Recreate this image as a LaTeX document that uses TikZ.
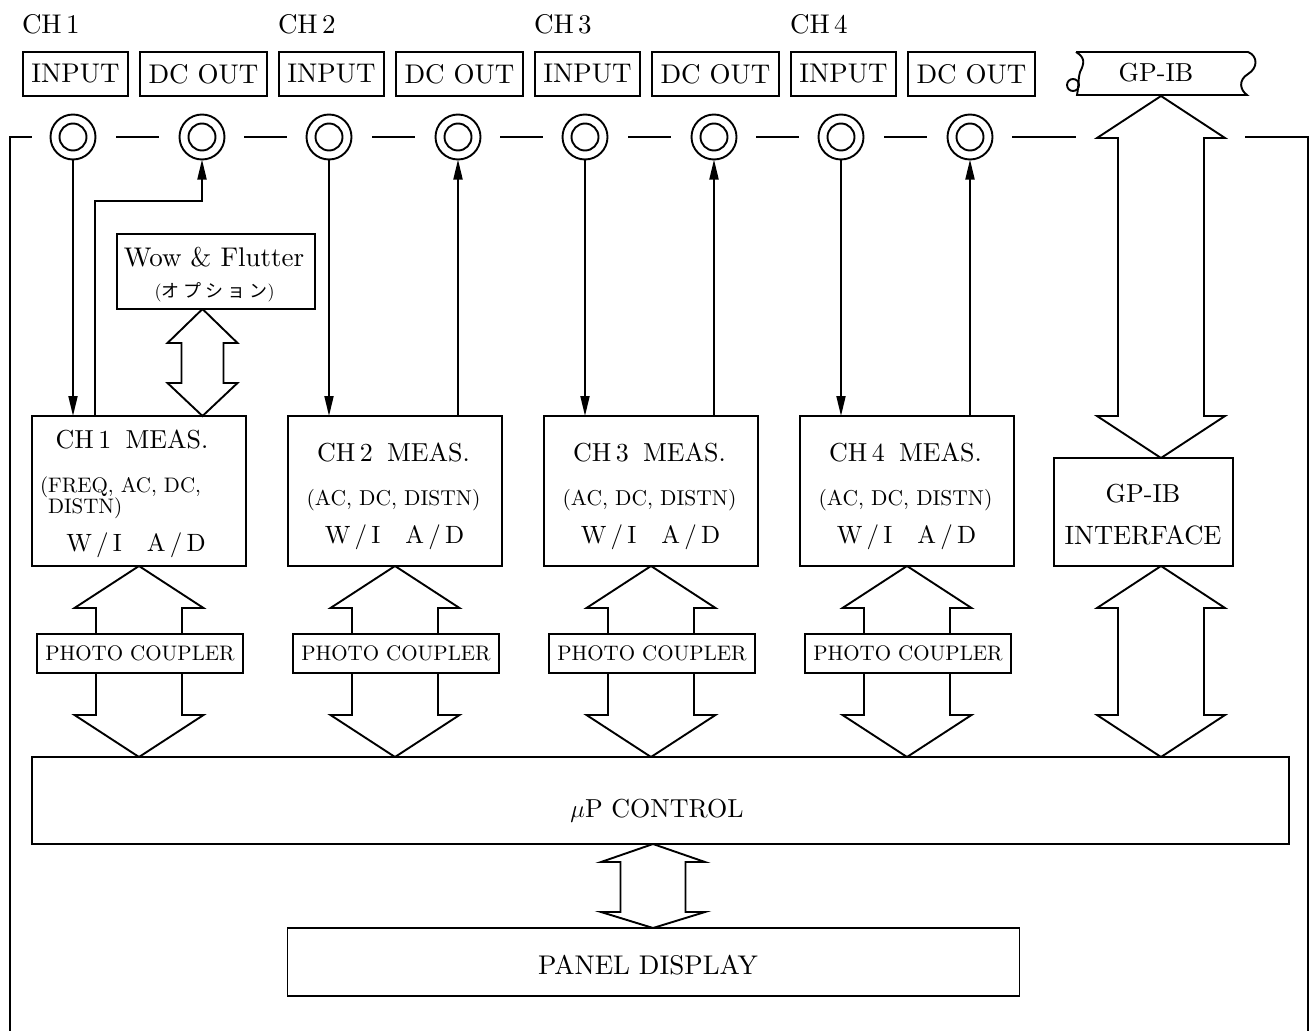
\documentclass[tikz,border=0pt]{standalone}
\usepackage{fontspec}
\setmainfont{lmroman10-regular.otf}
\newfontfamily\cjk{Noto Sans CJK JP}
\usetikzlibrary{arrows.meta}
\newcommand\myfs[1]{\fontsize{#1}{#1}\selectfont}
% block double arrow: x centre, top tip y, top wing y, bottom wing y, bottom tip y, half wing, half shaft
\newcommand\dblarr[7]{%
  \draw[blk] (#1,#2) -- ({#1+#6},#3) -- ({#1+#7},#3) -- ({#1+#7},#4) -- ({#1+#6},#4) -- (#1,#5)
     -- ({#1-#6},#4) -- ({#1-#7},#4) -- ({#1-#7},#3) -- ({#1-#6},#3) -- cycle;}
\begin{document}
\begin{tikzpicture}[x=1pt,y=-1pt,
  lw/.style={line width=1.9pt},
  box/.style={draw,line width=1.9pt,inner sep=0pt,outer sep=0pt,fill=white},
  txt/.style={inner sep=0pt,outer sep=0pt,anchor=base},
  arr/.style={line width=1.9pt,-{Triangle[length=20pt,width=9pt]}},
  blk/.style={line width=1.9pt,line join=miter,fill=white},
  jack/.style={circle,draw,line width=1.9pt,minimum size=45pt,inner sep=0pt,outer sep=0pt}]
\useasboundingbox (0,0) rectangle (1313,1030);

% panel frame
\draw[lw] (10,1031) -- (10,137) -- (32,137);
\draw[lw] (1245,137) -- (1308,137) -- (1308,1031);
\draw[lw] (1012,137) -- (1076,137);

% channels
\foreach \k [evaluate=\k as \dx using 256*\k, evaluate=\k as \n using int(\k+1),
             evaluate=\k as \cx using 139+256*\k] in {0,1,2,3} {
  \node[txt,anchor=base west] (ch\n) at ({22+\dx},34) {\myfs{27}CH\,\n};
  \node[box,minimum width=105,minimum height=44] (bin\n) at ({75.5+\dx},74) {\myfs{27}INPUT};
  \node[box,minimum width=127,minimum height=44] (bout\n) at ({203.5+\dx},74) {\myfs{27}DC OUT};
  \node[jack] (jin\n) at ({73+\dx},137) {};
  \draw[lw] (jin\n.center) circle (13.5);
  \node[jack] (jout\n) at ({202+\dx},137) {};
  \draw[lw] (jout\n.center) circle (13.5);
  \draw[lw] ({116+\dx},137) -- ({159+\dx},137);
  \dblarr{\cx}{566}{608}{715}{757}{64.5}{43}
  \node[box,minimum width=214,minimum height=150] (m\n) at (\cx,491) {};
  \node[box,minimum width=206,minimum height=39] (pc\n) at ({\cx+1},653.5) {\myfs{21}PHOTO COUPLER};
  \draw[arr] (jin\n.south) -- (jin\n.south |- m\n.north);
}
\foreach \k [evaluate=\k as \dx using 256*\k] in {0,1,2} {
  \draw[lw] ({244+\dx},137) -- ({287+\dx},137);
}
% channel 1 texts and DC OUT path
\node[txt] (t1a) at (132,448) {\myfs{26}CH\,1\hspace{0.55em}MEAS.};
\node[txt,anchor=base west] (t1b) at (40,492) {\myfs{21}(FREQ, AC, DC,};
\node[txt,anchor=base west] (t1c) at (48,513) {\myfs{21}DISTN)};
\node[txt] (t1d) at (136,551.5) {\myfs{25}W\,/\,I\quad A\,/\,D};
\coordinate (k1) at (95,201);
\draw[arr] (k1 |- m1.north) -- (k1) -| (jout1.south);
% channels 2-4 texts and DC OUT lines
\foreach \n [evaluate=\n as \cx using 138.5+256*(\n-1)] in {2,3,4} {
  \node[txt] (t\n a) at ({\cx-1},461) {\myfs{26}CH\,\n\hspace{0.55em}MEAS.};
  \node[txt] (t\n b) at ({\cx-1},505) {\myfs{21.5}(AC, DC, DISTN)};
  \node[txt] (t\n d) at (\cx,543.5) {\myfs{25}W\,/\,I\quad A\,/\,D};
  \draw[arr] (jout\n.south |- m\n.north) -- (jout\n.south);
}

% Wow & Flutter
\dblarr{202.5}{309}{343}{383}{416}{35}{21}
\node[box,minimum width=198,minimum height=75] (wow) at (216,271.5) {};
\node[txt] (wowa) at (214,266.5) {\myfs{27}Wow \& Flutter};
\node[txt] (wowb) at (214.5,297) {\myfs{18}(\cjk オ\hspace{4pt}プ\hspace{4pt}シ\hspace{4pt}ョ\hspace{4pt}ン\normalfont)};

% GP-IB connector (tape) and interface
\draw[lw] (1076,52) -- (1248,52)
  .. controls (1258,56) and (1258,68) .. (1248,74)
  .. controls (1238,80) and (1240,90) .. (1247,95)
  -- (1077,95)
  .. controls (1079,85) and (1078,78) .. (1080,72)
  .. controls (1084,64) and (1086,58) .. (1076,52);
\draw[lw] (1073,85) circle (6);
\node[txt] (gpib) at (1156,82) {\myfs{26}GP-IB};
\dblarr{1161}{96}{138}{416}{458}{64}{43}
\dblarr{1161}{566}{608}{715}{757}{64}{43}
\node[box,minimum width=179,minimum height=108] (gpif) at (1143.5,512) {};
\node[txt] (gpifa) at (1143,502) {\myfs{26}GP-IB};
\node[txt] (gpifb) at (1143,544) {\myfs{26.5}INTERFACE};

% uP control and panel display
\dblarr{653}{844}{862}{912}{928}{52}{32.5}
\node[box,minimum width=1257,minimum height=87] (up) at (660.5,800.5) {};
\node[txt] (uptxt) at (657,817) {\myfs{26}$\mu$P CONTROL};
\node[box,minimum width=732,minimum height=68] (pd) at (653.5,962) {};
\node[txt] (pdtxt) at (648,974) {\myfs{27}PANEL DISPLAY};
\end{tikzpicture}
\end{document}
